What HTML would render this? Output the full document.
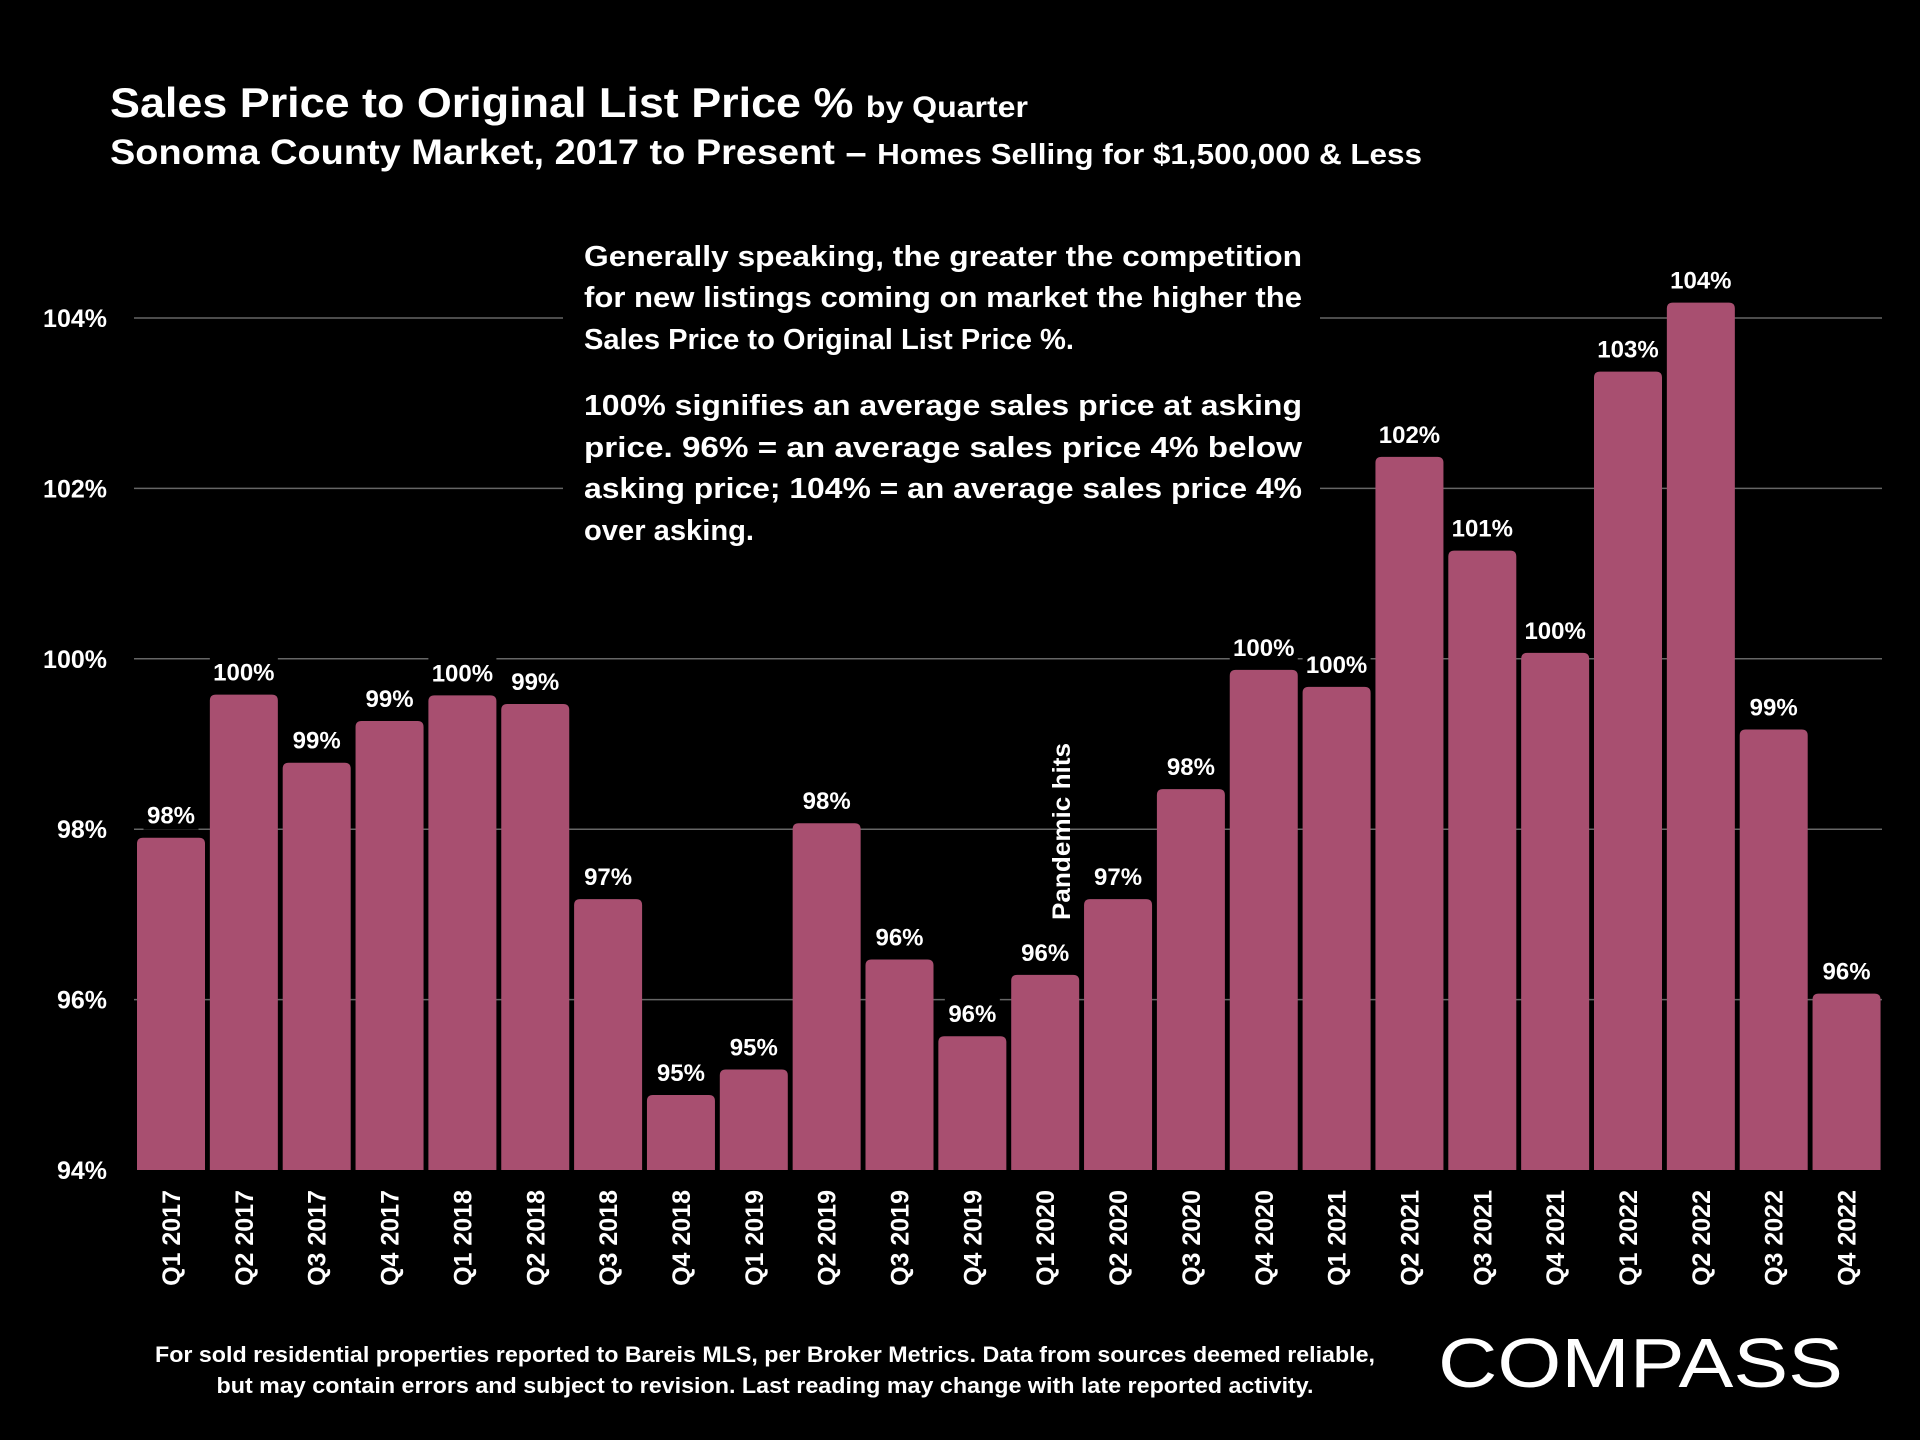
<!DOCTYPE html>
<html><head><meta charset="utf-8"><style>
html,body{margin:0;padding:0;background:#000;}
svg{display:block;font-family:"Liberation Sans",sans-serif;font-weight:bold;}
</style></head><body>
<svg id="chart" width="1920" height="1440" viewBox="0 0 1920 1440" xmlns="http://www.w3.org/2000/svg">
<rect width="1920" height="1440" fill="#000"/>
<text x="110" y="117" fill="#fff" font-size="42" textLength="918" lengthAdjust="spacingAndGlyphs">Sales Price to Original List Price % <tspan font-size="30">by Quarter</tspan></text>
<text x="110" y="164" fill="#fff" font-size="35" textLength="1312" lengthAdjust="spacingAndGlyphs">Sonoma County Market, 2017 to Present – <tspan font-size="29">Homes Selling for $1,500,000 &amp; Less</tspan></text>
<g id="grid"></g>
<g id="yaxis"></g>
<rect x="563" y="233" width="757" height="326" fill="#000"/>
<g fill="#fff" font-size="29">
<text x="584" y="266" textLength="718" lengthAdjust="spacingAndGlyphs">Generally speaking, the greater the competition</text>
<text x="584" y="307" textLength="718" lengthAdjust="spacingAndGlyphs">for new listings coming on market the higher the</text>
<text x="584" y="349" textLength="490" lengthAdjust="spacingAndGlyphs">Sales Price to Original List Price %.</text>
<text x="584" y="415" textLength="718" lengthAdjust="spacingAndGlyphs">100% signifies an average sales price at asking</text>
<text x="584" y="457" textLength="718" lengthAdjust="spacingAndGlyphs">price. 96% = an average sales price 4% below</text>
<text x="584" y="498" textLength="718" lengthAdjust="spacingAndGlyphs">asking price; 104% = an average sales price 4%</text>
<text x="584" y="540" textLength="170" lengthAdjust="spacingAndGlyphs">over asking.</text>
</g>
<g id="bars"></g>
<g id="labels"></g>
<g id="xaxis"></g>
<text transform="translate(1070,920) rotate(-90)" fill="#fff" font-size="25" textLength="177" lengthAdjust="spacingAndGlyphs">Pandemic hits</text>
<g fill="#fff" font-size="22" text-anchor="middle">
<text x="765" y="1362" textLength="1220" lengthAdjust="spacingAndGlyphs">For sold residential properties reported to Bareis MLS, per Broker Metrics. Data from sources deemed reliable,</text>
<text x="765" y="1393" textLength="1097" lengthAdjust="spacingAndGlyphs">but may contain errors and subject to revision. Last reading may change with late reported activity.</text>
</g>
<text x="1438" y="1387" fill="#fff" font-size="70" font-weight="normal" textLength="405" lengthAdjust="spacingAndGlyphs">COMPASS</text>
</svg>
<script>
const categories=["Q1 2017","Q2 2017","Q3 2017","Q4 2017","Q1 2018","Q2 2018","Q3 2018","Q4 2018","Q1 2019","Q2 2019","Q3 2019","Q4 2019","Q1 2020","Q2 2020","Q3 2020","Q4 2020","Q1 2021","Q2 2021","Q3 2021","Q4 2021","Q1 2022","Q2 2022","Q3 2022","Q4 2022"];
const values=[97.9,99.58,98.78,99.27,99.57,99.47,97.18,94.88,95.18,98.07,96.47,95.57,96.29,97.18,98.47,99.87,99.67,102.37,101.27,100.07,103.37,104.18,99.17,96.07];
const valueLabels=["98%","100%","99%","99%","100%","99%","97%","95%","95%","98%","96%","96%","96%","97%","98%","100%","100%","102%","101%","100%","103%","104%","99%","96%"];
const yTicks=[94,96,98,100,102,104];
const yTickLabels=["94%","96%","98%","100%","102%","104%"];
const NS="http://www.w3.org/2000/svg";
const y=v=>1170-(v-94)*85.2;
const x=i=>137+i*72.85;
const bw=68;
function mk(tag,attrs,parent){const e=document.createElementNS(NS,tag);for(const k in attrs)e.setAttribute(k,attrs[k]);parent.appendChild(e);return e;}
const grid=document.getElementById('grid'),ya=document.getElementById('yaxis'),bars=document.getElementById('bars'),labels=document.getElementById('labels'),xa=document.getElementById('xaxis');
yTicks.forEach((t,i)=>{
  if(t>94){const l=mk('line',{x1:134,x2:1882,y1:y(t),y2:y(t),stroke:'#666','stroke-width':1.5},grid);
  
  }
  const tx=mk('text',{x:107,y:y(t)+9,fill:'#fff','font-size':25,'text-anchor':'end'},ya);
  tx.textContent=yTickLabels[i];
  
  
});
values.forEach((v,i)=>{
  const top=y(v),r=6,x0=x(i);
  const p=mk('path',{d:`M${x0},1170 L${x0},${top+r} Q${x0},${top} ${x0+r},${top} L${x0+bw-r},${top} Q${x0+bw},${top} ${x0+bw},${top+r} L${x0+bw},1170 Z`,fill:'#a84f70'},bars);
  
  
  const cx=x0+bw/2;
  const w=Math.min(bw,valueLabels[i].length*15+10);
  const bg=mk('rect',{x:cx-w/2,y:top-38,width:w,height:30,fill:'#000'},labels);
  
  
  const t=mk('text',{x:cx,y:top-14,fill:'#fff','font-size':24,'text-anchor':'middle'},labels);
  t.textContent=valueLabels[i];
  
  
  const xl=mk('text',{transform:`translate(${cx+9},1190) rotate(-90)`,fill:'#fff','font-size':25,'text-anchor':'end'},xa);
  xl.textContent=categories[i];
  
  
});
</script>
</body></html>
